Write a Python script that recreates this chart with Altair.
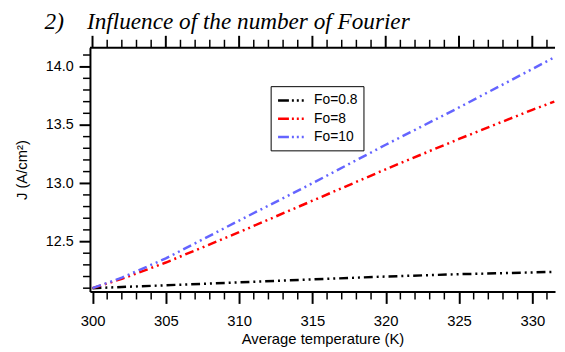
import altair as alt
import pandas as pd

# ---- data ----
temps = [300, 302, 305, 310, 315, 320, 325, 330, 331.5]
j_fo08 = [12.10, 12.11, 12.125, 12.15, 12.175, 12.20, 12.22, 12.235, 12.24]
j_fo8 = [12.10, 12.18, 12.32, 12.58, 12.85, 13.12, 13.38, 13.63, 13.70]
j_fo10 = [12.10, 12.19, 12.355, 12.68, 13.00, 13.33, 13.65, 13.98, 14.08]
series_names = ["Fo=0.8", "Fo=8", "Fo=10"]
series_colors = ["#000000", "#ff0000", "#6464ff"]

x_major = [300, 305, 310, 315, 320, 325, 330]
x_minor = [t for t in range(300, 332) if t % 5 != 0]
y_major = [12.5, 13.0, 13.5, 14.0]
y_minor = [12.1, 12.2, 12.3, 12.4, 12.6, 12.7, 12.8, 12.9, 13.1, 13.2, 13.3,
           13.4, 13.6, 13.7, 13.8, 13.9, 14.1]
x_domain = [299.825, 331.55]
y_domain = [12.071, 14.163]
title_text = "2)\u00a0\u00a0\u00a0\u00a0Influence of the number of Fourier"

W, H = 471, 247
FONT = "Liberation Sans"
DASH = [9, 4, 2, 4, 2, 4]

rows = []
for name, vals in zip(series_names, [j_fo08, j_fo8, j_fo10]):
    for t, v in zip(temps, vals):
        rows.append({"T": t, "J": v, "series": name})
df = pd.DataFrame(rows)

xs = alt.Scale(domain=x_domain, nice=False, zero=False)
ys = alt.Scale(domain=y_domain, nice=False, zero=False)

lines = alt.Chart(df).mark_line(strokeWidth=2.5, strokeDash=DASH).encode(
    x=alt.X("T:Q", scale=xs,
            axis=alt.Axis(values=x_major, format="d", tickSize=12, tickWidth=2,
                          domainWidth=2, labelPadding=10, labelFlush=False,
                          labelFontSize=15, title="Average temperature (K)",
                          titleFontSize=15, titlePadding=4)),
    y=alt.Y("J:Q", scale=ys,
            axis=alt.Axis(values=y_major, format=".1f", tickSize=11, tickWidth=2,
                          domainWidth=2, labelPadding=6, labelFlush=False,
                          labelFontSize=14.5, title="J (A/cm\u00b2)",
                          titleFontSize=15, titlePadding=16)),
    color=alt.Color("series:N", sort=series_names,
                    scale=alt.Scale(domain=series_names, range=series_colors),
                    legend=alt.Legend(orient="none", legendX=183, legendY=39,
                                      title=None, strokeColor="black",
                                      fillColor="white", padding=6,
                                      symbolType="M-2,0H2", symbolSize=196,
                                      symbolStrokeWidth=2.5,
                                      symbolDash=[11, 3, 2, 3, 2, 3, 2, 3],
                                      symbolOffset=7, labelOffset=14,
                                      labelFontSize=14, labelFont=FONT,
                                      labelColor="black", rowPadding=2.5)),
)

xminor_df = pd.DataFrame({"T": x_minor})
xmajor_df = pd.DataFrame({"T": x_major})
yminor_df = pd.DataFrame({"J": y_minor})

bottom_minor = alt.Chart(xminor_df).mark_rule(color="black", strokeWidth=1.5).encode(
    x=alt.X("T:Q", scale=xs), y=alt.value(H), y2=alt.value(H + 8))
top_minor = alt.Chart(xminor_df).mark_rule(color="black", strokeWidth=1.5).encode(
    x=alt.X("T:Q", scale=xs), y=alt.value(0), y2=alt.value(-8))
top_major = alt.Chart(xmajor_df).mark_rule(color="black", strokeWidth=2).encode(
    x=alt.X("T:Q", scale=xs), y=alt.value(0), y2=alt.value(-12))
left_minor = alt.Chart(yminor_df).mark_rule(color="black", strokeWidth=1.5).encode(
    y=alt.Y("J:Q", scale=ys), x=alt.value(0), x2=alt.value(-7))
top_domain = alt.Chart(pd.DataFrame({"a": [0]})).mark_rule(color="black", strokeWidth=2).encode(
    x=alt.value(0), x2=alt.value(W), y=alt.value(0))

title = alt.Chart(pd.DataFrame({"t": [title_text]})).mark_text(
    font="Liberation Serif", fontStyle="italic", fontSize=23.5, align="left",
    baseline="alphabetic", color="black").encode(
    text="t:N", x=alt.value(-46), y=alt.value(-19))

chart = alt.layer(lines, bottom_minor, top_minor, top_major, left_minor,
                  top_domain, title).properties(
    width=W, height=H,
    autosize=alt.AutoSizeParams(type="none"),
    padding={"left": 83, "top": 38, "right": 2, "bottom": 56},
).configure_view(strokeWidth=0).configure_axis(
    grid=False, domainColor="black", tickColor="black", labelColor="black",
    titleColor="black", labelFont=FONT, titleFont=FONT, titleFontWeight="normal",
)

chart.save("out.html", embed_options={"renderer": "svg", "actions": False})
